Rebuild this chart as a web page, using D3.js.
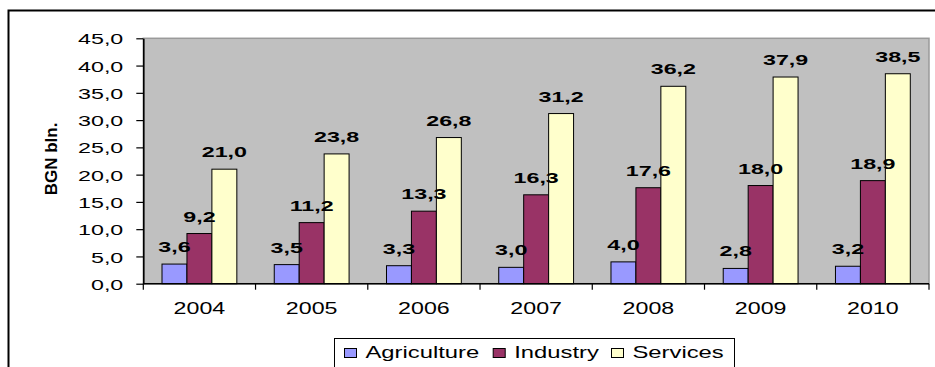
<!DOCTYPE html>
<html>
<head>
<meta charset="utf-8">
<script src="https://cdn.jsdelivr.net/npm/d3@7/dist/d3.min.js"></script>
<style>
  html, body { margin: 0; padding: 0; background: #fff; }
  svg { display: block; }
  text { font-family: "Liberation Sans", Arial, sans-serif; fill: #000; }
</style>
</head>
<body>
<svg id="chart" width="935" height="367"></svg>
<script>
// Gross value added by sector, BGN bln.
const years = ["2004", "2005", "2006", "2007", "2008", "2009", "2010"];
const seriesNames = ["Agriculture", "Industry", "Services"];
const agriculture = [3.6, 3.5, 3.3, 3.0, 4.0, 2.8, 3.2];
const industry = [9.2, 11.2, 13.3, 16.3, 17.6, 18.0, 18.9];
const services = [21.0, 23.8, 26.8, 31.2, 36.2, 37.9, 38.5];
const yTicks = [0, 5, 10, 15, 20, 25, 30, 35, 40, 45];
const yTitle = "BGN bln.";

const seriesValues = [agriculture, industry, services];
const colors = ["#9999FF", "#993366", "#FFFFCC"];

const svg = d3.select("#chart");
const plot = { left: 143.3, right: 929, top: 38.3, bottom: 283.7 };

const fmt = v => d3.format(".1f")(v).replace(".", ",");

// outer chart frame
svg.append("rect")
  .attr("x", 8.5).attr("y", 10.5)
  .attr("width", 1000).attr("height", 500)
  .attr("fill", "none").attr("stroke", "#000").attr("stroke-width", 2);

const y = d3.scaleLinear().domain([0, 45]).range([plot.bottom, plot.top]);
const x = d3.scaleBand().domain(years).range([plot.left, plot.right]).paddingInner(0).paddingOuter(0);
const xs = d3.scaleBand().domain(seriesNames).range([0, x.bandwidth()]).paddingInner(0).paddingOuter(0.75);

// plot area
svg.append("rect")
  .attr("x", plot.left).attr("y", plot.top)
  .attr("width", plot.right - plot.left).attr("height", plot.bottom - plot.top)
  .attr("fill", "#C0C0C0").attr("stroke", "#9a9a9a").attr("stroke-width", 1.5);

// bars
const rows = years.map((yr, i) => ({ year: yr, vals: seriesNames.map((s, j) => ({ s, j, v: seriesValues[j][i] })) }));
const groups = svg.append("g").selectAll("g").data(rows).join("g")
  .attr("transform", d => `translate(${x(d.year)},0)`);
groups.selectAll("rect").data(d => d.vals).join("rect")
  .attr("x", d => xs(d.s))
  .attr("y", d => y(d.v))
  .attr("width", xs.bandwidth())
  .attr("height", d => y(0) - y(d.v))
  .attr("fill", d => colors[d.j])
  .attr("stroke", "#000").attr("stroke-width", 1);

// y axis
const yAxis = svg.append("g")
  .attr("transform", `translate(${plot.left},0)`)
  .call(d3.axisLeft(y).tickValues(yTicks).tickFormat(fmt).tickSize(7).tickSizeOuter(0));
yAxis.select(".domain").attr("stroke", "#000").attr("stroke-width", 1.6);
yAxis.selectAll(".tick line").attr("stroke", "#000").attr("stroke-width", 1.2);
yAxis.selectAll(".tick text")
  .attr("x", 0).attr("dy", "0.36em")
  .attr("transform", "translate(-20,0) scale(1.5,1)")
  .attr("font-size", 15.5).attr("font-family", "Liberation Sans, Arial, sans-serif")
  .attr("fill", "#000");

// x axis: baseline, boundary ticks, centred year labels
const xAxis = svg.append("g").attr("transform", `translate(0,${plot.bottom})`);
xAxis.append("line")
  .attr("x1", plot.left).attr("x2", plot.right)
  .attr("stroke", "#000").attr("stroke-width", 1.6);
const bounds = years.map(yr => x(yr)).concat([plot.right]);
xAxis.selectAll("line.tk").data(bounds).join("line").attr("class", "tk")
  .attr("x1", d => d).attr("x2", d => d).attr("y1", 0).attr("y2", 6)
  .attr("stroke", "#000").attr("stroke-width", 1.2);
xAxis.selectAll("text").data(years).join("text")
  .attr("transform", d => `translate(${x(d) + x.bandwidth() / 2},30.3) scale(1.47,1)`)
  .attr("text-anchor", "middle").attr("font-size", 15.8)
  .text(d => d);

// value labels
const labels = svg.append("g");
rows.forEach(r => {
  r.vals.forEach(d => {
    labels.append("text")
      .attr("transform", `translate(${x(r.year) + xs(d.s) + xs.bandwidth() / 2},${y(d.v) - 12}) scale(1.5,1)`)
      .attr("text-anchor", "middle")
      .attr("font-size", 15.5).attr("font-weight", "bold")
      .text(fmt(d.v));
  });
});

// y axis title
svg.append("text")
  .attr("transform", "translate(57,159) rotate(-90)")
  .attr("text-anchor", "middle")
  .attr("font-size", 17).attr("font-weight", "bold")
  .text(yTitle);

// legend
const legend = svg.append("g");
legend.append("rect")
  .attr("x", 334.5).attr("y", 338.5).attr("width", 400).attr("height", 60)
  .attr("fill", "#fff").attr("stroke", "#000").attr("stroke-width", 1);
const legendX = [344, 492.7, 611];
seriesNames.forEach((s, i) => {
  legend.append("rect")
    .attr("x", legendX[i] + 0.5).attr("y", 348.5).attr("width", 12).attr("height", 9)
    .attr("fill", colors[i]).attr("stroke", "#000").attr("stroke-width", 1);
  legend.append("text")
    .attr("transform", `translate(${legendX[i] + 21.5},358.3) scale(1.4,1)`)
    .attr("font-size", 17)
    .text(s);
});
</script>
</body>
</html>
